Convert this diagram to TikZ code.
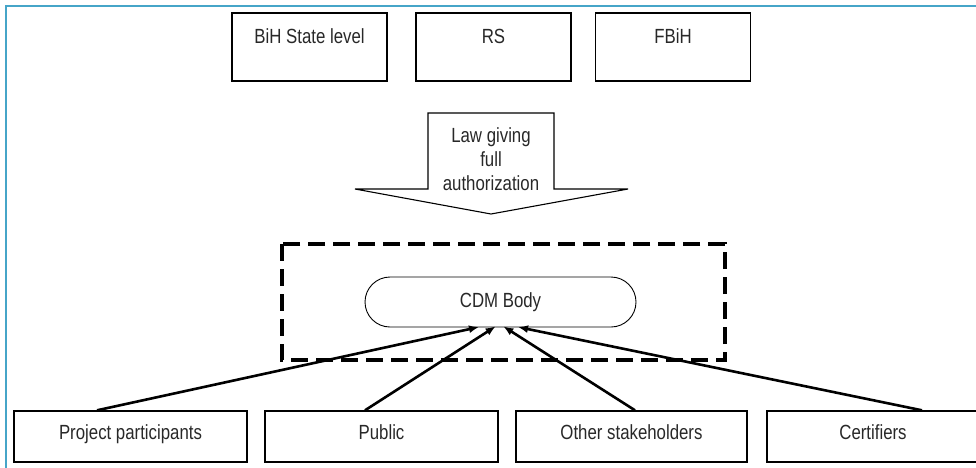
\documentclass[tikz,border=0pt]{standalone}
\usepackage{fontspec}
\setmainfont{Liberation Sans}[FakeStretch=0.82]
\usetikzlibrary{arrows.meta}

\definecolor{framecol}{RGB}{70,165,200}
\definecolor{txtcol}{RGB}{40,40,40}

\begin{document}
\begin{tikzpicture}[x=1pt,y=-1pt,>={Latex[length=10pt,width=8pt]},
  font=\fontsize{20.5}{24}\selectfont,text=txtcol,
  box/.style={draw,line width=1.4pt,inner sep=0pt},
  topbox/.style={box,minimum width=155pt,minimum height=68pt,
    text height=15pt,text depth=23pt},
  lowbox/.style={box,minimum width=233pt,minimum height=51pt,
    text height=15pt,text depth=10pt},
  link/.style={->,line width=2.6pt,shorten >=-2pt}]

\clip (0,0) rectangle (976,467);

% Rahmen
\draw[framecol,line width=1.5pt] (976,6)--(6,6)--(6,470);

% Ebenen
\node[topbox] (bih) at (309.5,47) {BiH State level};
\node[topbox] (rs) at (493.5,47) {RS};
\node[topbox] (fbih) at (673,47) {FBiH};

% Gesetz (Pfeil)
\draw[line width=1.1pt] (428,113)--(554,113)--(554,189)--(628,189)--(491,214)
  --(355,189)--(428,189)--cycle;
\node[align=center] (law) at (491,159) {Law giving\\full\\authorization};

% gestrichelter Rahmen
\draw[line width=3.5pt,dash pattern=on 17pt off 8pt] (282,244) rectangle (725,360);

% CDM Body
\node[draw,line width=0.9pt,rounded corners=25pt,minimum width=271pt,
  minimum height=50pt] (cdm) at (500.5,302) {CDM Body};

% Beteiligte
\node[lowbox] (pp) at (130.5,436.5) {Project participants};
\node[lowbox] (pub) at (381.5,436.5) {Public};
\node[lowbox,minimum width=231pt] (other) at (631.5,436.5) {Other stakeholders};
\node[lowbox,minimum width=212pt] (cert) at (873,436.5) {Certifiers};

% Pfeile
\draw[link] ([xshift=-33.5pt]pp.north) -- ([xshift=-23.5pt]cdm.south);
\draw[link] ([xshift=-16.5pt]pub.north) -- ([xshift=-6.5pt]cdm.south);
\draw[link] ([xshift=3.5pt]other.north) -- ([xshift=4.5pt]cdm.south);
\draw[link] ([xshift=49pt]cert.north) -- ([xshift=19.5pt]cdm.south);

\end{tikzpicture}
\end{document}
